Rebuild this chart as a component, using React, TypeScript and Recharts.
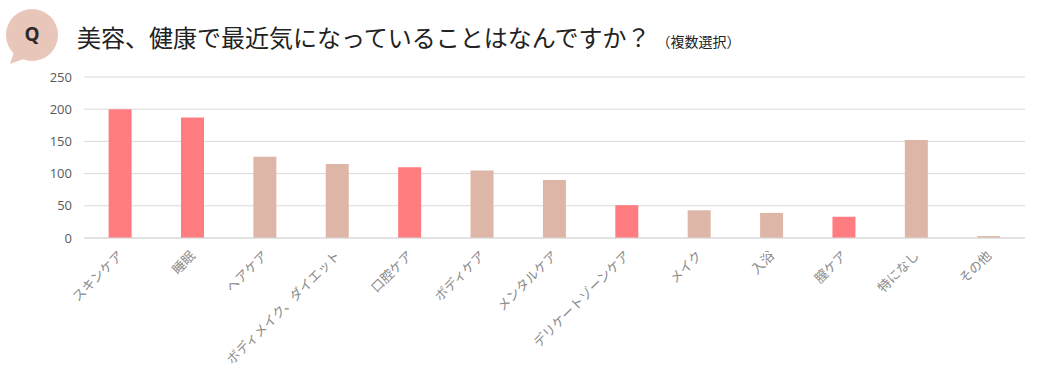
import { Bar, BarChart, CartesianGrid, Cell, XAxis, YAxis } from "recharts"

const categories = [
  "スキンケア",
  "睡眠",
  "ヘアケア",
  "ボディメイク、ダイエット",
  "口腔ケア",
  "ボディケア",
  "メンタルケア",
  "デリケートゾーンケア",
  "メイク",
  "入浴",
  "膣ケア",
  "特になし",
  "その他",
]
const counts = [200, 187, 126, 115, 110, 105, 90, 51, 43, 39, 33, 152, 3]
const highlighted = ["スキンケア", "睡眠", "口腔ケア", "デリケートゾーンケア", "膣ケア"]
const yTicks = [0, 50, 100, 150, 200, 250]

const data = categories.map((name, i) => ({ name, count: counts[i] }))

const JP = "'Noto Sans CJK JP', 'Noto Sans', sans-serif"

function SlantTick(props: any) {
  const { x, y, payload } = props
  return (
    <g transform={`translate(${x + 1},${y + 8})`}>
      <text
        x={0}
        y={0}
        textAnchor="end"
        dominantBaseline="middle"
        transform="rotate(-45)"
        fill="#8a8a8a"
        fontSize={13}
        fontFamily={JP}
      >
        {payload.value}
      </text>
    </g>
  )
}

function Badge() {
  return (
    <svg width={70} height={70} style={{ position: "absolute", left: 0, top: 0 }}>
      <path d="M14 52 L10 64 L26 58 Z" fill="#e9c6ba" />
      <circle cx={32} cy={35} r={26} fill="#e9c6ba" />
      <text x={32} y={36} textAnchor="middle" dominantBaseline="middle" fontSize={19} fontWeight={700} fill="#2b2b2b" fontFamily="'Noto Sans', sans-serif">
        Q
      </text>
    </svg>
  )
}

export default function App() {
  return (
    <div style={{ position: "absolute", left: 0, top: 0, width: 1044, height: 374, background: "#fff", overflow: "hidden" }}>
      <Badge />
      <div
        style={{
          position: "absolute",
          left: 77,
          top: 21,
          fontFamily: JP,
          fontSize: 24,
          color: "#222",
          whiteSpace: "nowrap",
          lineHeight: "32px",
        }}
      >
        美容、健康で最近気になっていることはなんですか？
        <span style={{ fontSize: 14, marginLeft: 6 }}>（複数選択）</span>
      </div>
      <div style={{ position: "absolute", left: 0, top: 0 }}>
        <BarChart width={1044} height={374} data={data} margin={{ top: 77, right: 19, bottom: 6, left: 30 }} barCategoryGap="34%">
          <CartesianGrid vertical={false} stroke="#d9d9d9" />
          <XAxis
            dataKey="name"
            interval={0}
            height={130}
            axisLine={{ stroke: "#d9d9d9" }}
            tickLine={false}
            tick={<SlantTick />}
          />
          <YAxis
            width={54}
            domain={[0, 250]}
            ticks={yTicks}
            axisLine={false}
            tickLine={false}
            tickMargin={6}
            tick={{ fill: "#595959", fontSize: 13, fontFamily: "'Open Sans', sans-serif" }}
          />
          <Bar dataKey="count" isAnimationActive={false}>
            {data.map((d) => (
              <Cell key={d.name} fill={highlighted.includes(d.name) ? "#ff7c80" : "#deb6a8"} />
            ))}
          </Bar>
        </BarChart>
      </div>
    </div>
  )
}
